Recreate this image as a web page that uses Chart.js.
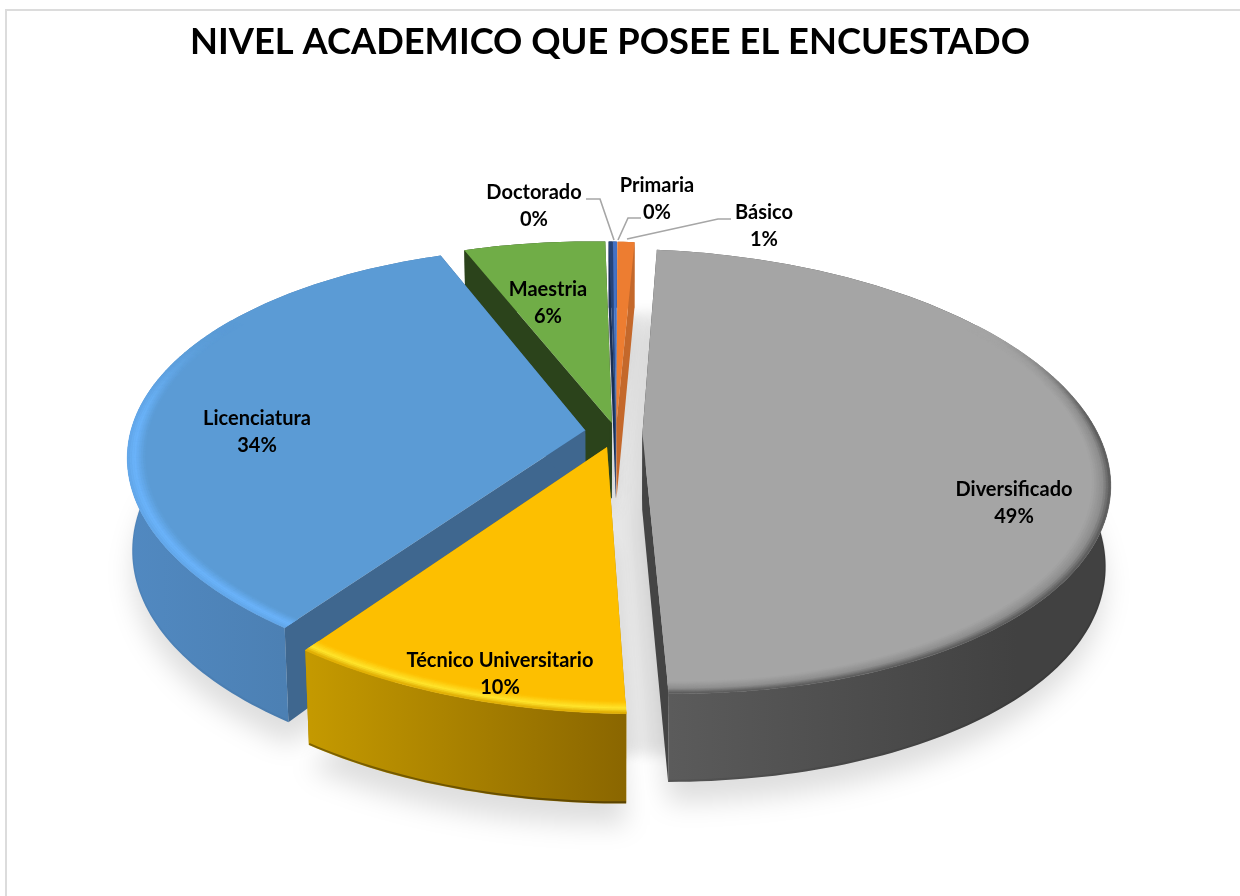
<!DOCTYPE html>
<html lang="es">
<head>
<meta charset="utf-8">
<title>Nivel académico</title>
<script src="https://cdn.jsdelivr.net/npm/chart.js@4"></script>
<style>
html,body{margin:0;padding:0;background:#fff;overflow:hidden}
#frame{position:absolute;left:5px;top:9px;width:1235px;height:887px;border-left:2px solid #dcdcdc;border-top:2px solid #dcdcdc;box-sizing:border-box}
canvas{position:absolute;left:0;top:0}
</style>
</head>
<body>
<div id="frame"></div>
<canvas id="c" width="1240" height="896"></canvas>
<script>
// ---- data ----
const categories = ["Primaria","Básico","Diversificado","Técnico Universitario","Licenciatura","Maestria","Doctorado"];
const percentValues = [0.17,0.7,48.65,10.1,34.3,5.91,0.17];
const chartTitle = "NIVEL ACADEMICO QUE POSEE EL ENCUESTADO";

// ---- styles ----
const faceColors = ["#4472c4","#ed7d31","#a5a5a5","#fdbf00","#5b9bd5","#70ad47","#264478"];
const innerWallColors = ["#2f4f88","#c4682b","#444444","#b38600","#3f678f","#2b431b","#1a2f54"];
const outerWallLeft = ["#2f4f88","#c4682b","#5c5c5c","#c59a00","#5189c1","#2b431b","#1a2f54"];
const outerWallRight = ["#2f4f88","#c4682b","#414141","#8a6600","#4777a6","#2b431b","#1a2f54"];
const rimBright = ["#4472c4","#ed7d31","#8c8c8c","#ffe62e","#6bb4fb","#70ad47","#264478"];
const rimEdge = ["#4472c4","#ed7d31","#555555","#dcA600","#62a6e8","#70ad47","#264478"];
const wallFootAlpha = [0,0,0.08,0.35,0.03,0,0];
const explodePx = [18,18,23,28,27,18,18];

// ---- view (perspective of the pie plane) ----
const view = {cx:616, cy:432.5, A:455, B:215.5, S:25, p:0.171, D:77, Dq:8, Dl:6, q:0.01};
function project(X,Y,z){
  const w = 1 - view.p*Y + view.q*z;
  const depth = view.D + view.Dq*X*X - view.Dl*X;
  return [view.cx + (view.A*X + view.S*Y)/w, view.cy + (view.B*Y + depth*z)/w];
}

// ---- text layout ----
const labelCenters = [[657,199],[764,226],[1014,503],[500,674],[257,432],[548,303],[534,206]];
const leaders = [
  [[618,240],[628,218],[641,218]],
  [[627,239],[718,219],[731,219]],
  null,null,null,null,
  [[614,240],[600,199],[586,199]]
];

function hex(c){return [1,3,5].map(i=>parseInt(c.substr(i,2),16));}
function mix(a,b,t){return a.map((v,i)=>v+(b[i]-v)*t);}
function rgb(c){return "rgb("+c.map(v=>Math.round(v)).join(",")+")";}
function smooth(a,b,x){const t=Math.min(1,Math.max(0,(x-a)/(b-a)));return t*t*(3-2*t);}

const pie3d = {
  id:"pie3d",
  beforeDatasetsDraw(chart){
    const ctx = chart.ctx;
    const arcs = chart.getDatasetMeta(0).data;
    const geo = arcs.map(arc=>{
      const s=arc.startAngle,e=arc.endAngle,m=(s+e)/2,R=arc.outerRadius;
      const off=arc.options.offset||0;
      const ox=off*Math.cos(m)/R, oy=off*Math.sin(m)/R;
      return {s,e,m,ox,oy,pt:(a,r,z)=>project(ox+r*Math.cos(a),oy+r*Math.sin(a),z),
              base:(a,r,z)=>project(r*Math.cos(a),r*Math.sin(a),z)};
    });
    const poly=(pts)=>{ctx.beginPath();pts.forEach((p,i)=>i?ctx.lineTo(p[0],p[1]):ctx.moveTo(p[0],p[1]));ctx.closePath();};
    const arcPts=(g,r,z,from,to)=>{
      const n=Math.max(2,Math.ceil(Math.abs((to-from))/0.02));const out=[];
      for(let i=0;i<=n;i++)out.push(g.pt(from+(to-from)*i/n,r,z));return out;
    };
    // soft ground shadow: each slice's footprint, then the whole disc for the gaps between slices
    ctx.save();
    ctx.filter="blur(13px)";
    ctx.fillStyle="rgba(0,0,0,0.13)";
    geo.forEach(g=>{
      poly([g.pt(0,0,1.24)].concat(arcPts(g,1.0,1.24,g.s,g.e)));ctx.fill();
    });
    ctx.filter="blur(7px)";
    ctx.fillStyle="rgba(0,0,0,0.10)";
    geo.forEach(g=>{
      const n=Math.max(2,Math.ceil((g.e-g.s)/0.02));const pts=[g.base(0,0,0.85)];
      for(let i=0;i<=n;i++)pts.push(g.base(g.s+(g.e-g.s)*i/n,0.96,0.85));
      poly(pts);ctx.fill();
    });
    ctx.restore();
    // slices, back to front
    const order=geo.map((g,i)=>i).sort((a,b)=>Math.sin(geo[a].m)-Math.sin(geo[b].m));
    order.forEach(i=>{
      const g=geo[i];
      const apexT=g.pt(0,0,0),apexB=g.pt(0,0,1);
      // radial walls
      ctx.fillStyle=innerWallColors[i];
      [g.s,g.e].forEach(a=>{
        poly([apexT,g.pt(a,1,0),g.pt(a,1,1),apexB]);ctx.fill();
      });
      // outer wall
      const topEdge=arcPts(g,1,0,g.s,g.e),botEdge=arcPts(g,1,1,g.s,g.e);
      const xs=topEdge.concat(botEdge).map(p=>p[0]);
      const x0=Math.min(...xs),x1=Math.max(...xs);
      const grad=ctx.createLinearGradient(x0,0,Math.min(x1,x0+360),0);
      grad.addColorStop(0,outerWallLeft[i]);grad.addColorStop(1,outerWallRight[i]);
      ctx.fillStyle=grad;
      poly(topEdge.concat(botEdge.slice().reverse()));ctx.fill();
      // darker foot of the wall
      if(wallFootAlpha[i]>0){
        ctx.strokeStyle="rgba(0,0,0,"+wallFootAlpha[i]+")";ctx.lineWidth=2;
        ctx.beginPath();arcPts(g,0.999,0.99,g.s,g.e).forEach((p,k)=>k?ctx.lineTo(p[0],p[1]):ctx.moveTo(p[0],p[1]));
        ctx.stroke();
      }
      // top face
      ctx.fillStyle=faceColors[i];
      poly([apexT].concat(topEdge));ctx.fill();
      // bevel on the near rim
      const face=hex(faceColors[i]),bright=hex(rimBright[i]),edge=hex(rimEdge[i]);
      const layers=8,rIn=0.962,da=0.025;
      const nSeg=Math.ceil((g.e-g.s)/da);
      if(g.e-g.s>0.4){
        for(let k=0;k<nSeg;k++){
          const a0=g.s+(g.e-g.s)*k/nSeg,a1=g.s+(g.e-g.s)*(k+1)/nSeg;
          const gate=smooth(-0.55,0.0,Math.sin((a0+a1)/2));
          if(gate<=0)continue;
          for(let l=0;l<layers;l++){
            const t0=l/layers,t1=(l+1)/layers,t=(t0+t1)/2;
            const r0=rIn+(1-rIn)*t0,r1=rIn+(1-rIn)*t1;
            const prof=t<0.6?mix(face,bright,t/0.6):mix(bright,edge,(t-0.6)/0.4);
            const col=rgb(mix(face,prof,gate));
            poly([g.pt(a0,r0,0),g.pt(a1,r0,0),g.pt(a1,r1,0),g.pt(a0,r1,0)]);
            ctx.fillStyle=col;ctx.strokeStyle=col;ctx.lineWidth=0.6;ctx.fill();ctx.stroke();
          }
        }
      }
    });
    return false; // arcs are fully painted above, from the library's own arc geometry
  },
  afterDraw(chart){
    const ctx=chart.ctx;
    const total=percentValues.reduce((a,b)=>a+b,0);
    ctx.save();
    ctx.strokeStyle="#a6a6a6";ctx.lineWidth=1.6;
    leaders.forEach(l=>{
      if(!l)return;
      ctx.beginPath();l.forEach((p,k)=>k?ctx.lineTo(p[0],p[1]):ctx.moveTo(p[0],p[1]));ctx.stroke();
    });
    ctx.fillStyle="#000";ctx.textAlign="center";ctx.textBaseline="middle";
    ctx.font="bold 20px Lato";
    categories.forEach((name,i)=>{
      const [x,y]=labelCenters[i];
      ctx.fillText(name,x,y-13.5);
      ctx.fillText(Math.round(percentValues[i]/total*100)+"%",x,y+13.5);
    });
    ctx.restore();
  }
};

new Chart(document.getElementById("c"),{
  type:"pie",
  data:{labels:categories,datasets:[{data:percentValues,backgroundColor:faceColors,offset:explodePx,borderWidth:0}]},
  options:{
    responsive:false,animation:false,rotation:2.7,
    layout:{padding:{right:20}},
    plugins:{
      legend:{display:false},tooltip:{enabled:false},
      title:{display:true,text:chartTitle,color:"#000",font:{family:"Lato",size:36.3,weight:"bold"},padding:{top:21,bottom:10}}
    }
  },
  plugins:[pie3d]
});
</script>
</body>
</html>
